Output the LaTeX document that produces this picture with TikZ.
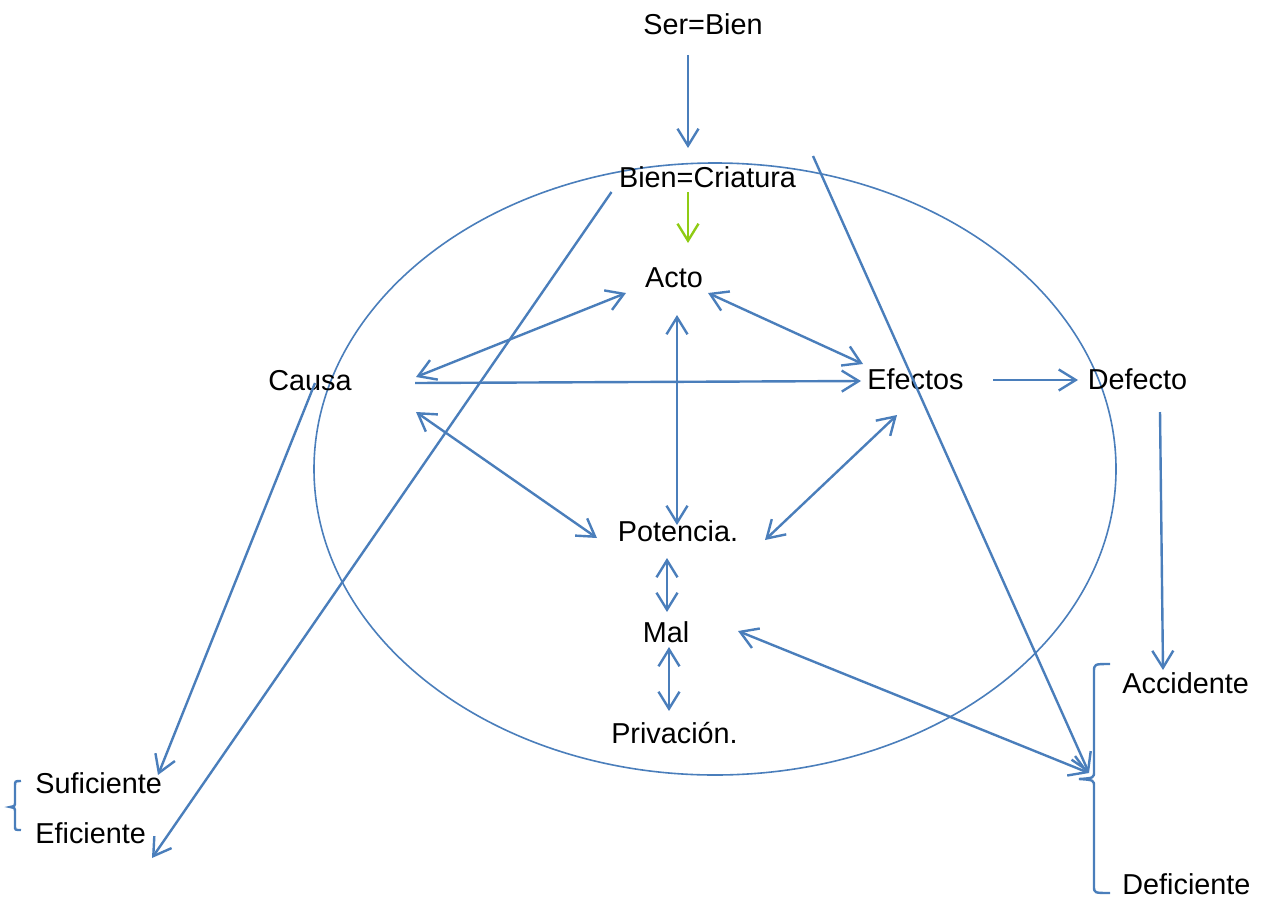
\documentclass[tikz,border=0pt]{standalone}
\usepackage{fontspec}
\setmainfont{Liberation Sans}
\usepackage{xcolor}
\usetikzlibrary{arrows.meta}
\definecolor{link}{HTML}{4A7EBB}
\definecolor{lime}{HTML}{8FCB14}
\tikzset{
  lbl/.style={inner sep=0pt,anchor=base,font=\fontsize{14.4}{17}\selectfont},
  conn/.style={draw=link,line width=1.2pt},
}
\begin{document}
\begin{tikzpicture}[x=0.5pt,y=-0.5pt,>={Straight Barb[length=8.5pt,width=10.5pt]}]
  \useasboundingbox (0,0) rectangle (1261,899);
  \draw[link,line width=0.8pt] (715,469) ellipse [x radius=401,y radius=306];

  \node[lbl] (serbien) at (703,35) {Ser=Bien};
  \node[lbl] (criatura) at (707.5,187) {Bien=Criatura};
  \node[lbl] (acto) at (674,287) {Acto};
  \node[lbl] (causa) at (310,390) {Causa};
  \node[lbl] (efectos) at (915.5,389) {Efectos};
  \node[lbl] (defecto) at (1137.5,389) {Defecto};
  \node[lbl] (potencia) at (678,541) {Potencia.};
  \node[lbl] (mal) at (666,642) {Mal};
  \node[lbl] (privacion) at (674.5,743) {Privación.};
  \node[lbl,anchor=base west] (accidente) at (1122,693) {Accidente};
  \node[lbl,anchor=base west] (deficiente) at (1122,894) {Deficiente};
  \node[lbl,anchor=base west] (suficiente) at (35,793) {Suficiente};
  \node[lbl,anchor=base west] (eficiente) at (35,843) {Eficiente};
  \coordinate (tipR) at (1089,773);

  % braces
  \draw[conn] (1110,664) .. controls (1094,664) .. (1094,672) -- (1094,771)
    .. controls (1094,778) .. (1079,779) .. controls (1094,780) .. (1094,787)
    -- (1094,886) .. controls (1094,893) .. (1110,893);
  \draw[conn] (21,781) .. controls (15,781) .. (15,786) -- (15,802)
    .. controls (15,806) .. (10,807) .. controls (15,808) .. (15,812)
    -- (15,826) .. controls (15,830) .. (21,830);

  \draw[conn,->] ([shift={(-15,20)}]serbien.base) -- ([shift={(-19.5,-39)}]criatura.base);
  \draw[conn,draw=lime,->] ([shift={(-19.5,5)}]criatura.base) -- ([shift={(14,-44)}]acto.base);
  \draw[conn,<->] ([shift={(106,-13)}]causa.base) -- ([shift={(-48,6)}]acto.base);
  \draw[conn,<->] ([shift={(34,6)}]acto.base) -- ([shift={(-52.5,-25)}]efectos.base);
  \draw[conn,->] ([shift={(105,-7)}]causa.base) -- ([shift={(-54.5,-8)}]efectos.base);
  \draw[conn,<->] ([shift={(3,28)}]acto.base) -- ([shift={(-1,-16)}]potencia.base);
  \draw[conn,<->] ([shift={(106,22)}]causa.base) -- ([shift={(-81,-3)}]potencia.base);
  \draw[conn,<->] ([shift={(-18.5,26)}]efectos.base) -- ([shift={(87,-1)}]potencia.base);
  \draw[conn,<->] ([shift={(-11,17)}]potencia.base) -- ([shift={(1,-30)}]mal.base);
  \draw[conn,<->] ([shift={(3,5)}]mal.base) -- ([shift={(-5.5,-32)}]privacion.base);
  \draw[conn,<->] ([shift={(72,-11)}]mal.base) -- (tipR);
  \draw[conn,->] ([shift={(105.5,-31)}]criatura.base) -- (tipR);
  \draw[conn,->] ([shift={(-96,5)}]criatura.base) -- ([shift={(117,15)}]eficiente.base west);
  \draw[conn,->] ([shift={(5,-7)}]causa.base) -- ([shift={(123,-18)}]suficiente.base west);
  \draw[conn,->] ([shift={(77.5,-9)}]efectos.base) -- ([shift={(-59.5,-9)}]defecto.base);
  \draw[conn,->] ([shift={(22.5,23)}]defecto.base) -- ([shift={(41,-23)}]accidente.base west);
\end{tikzpicture}
\end{document}
